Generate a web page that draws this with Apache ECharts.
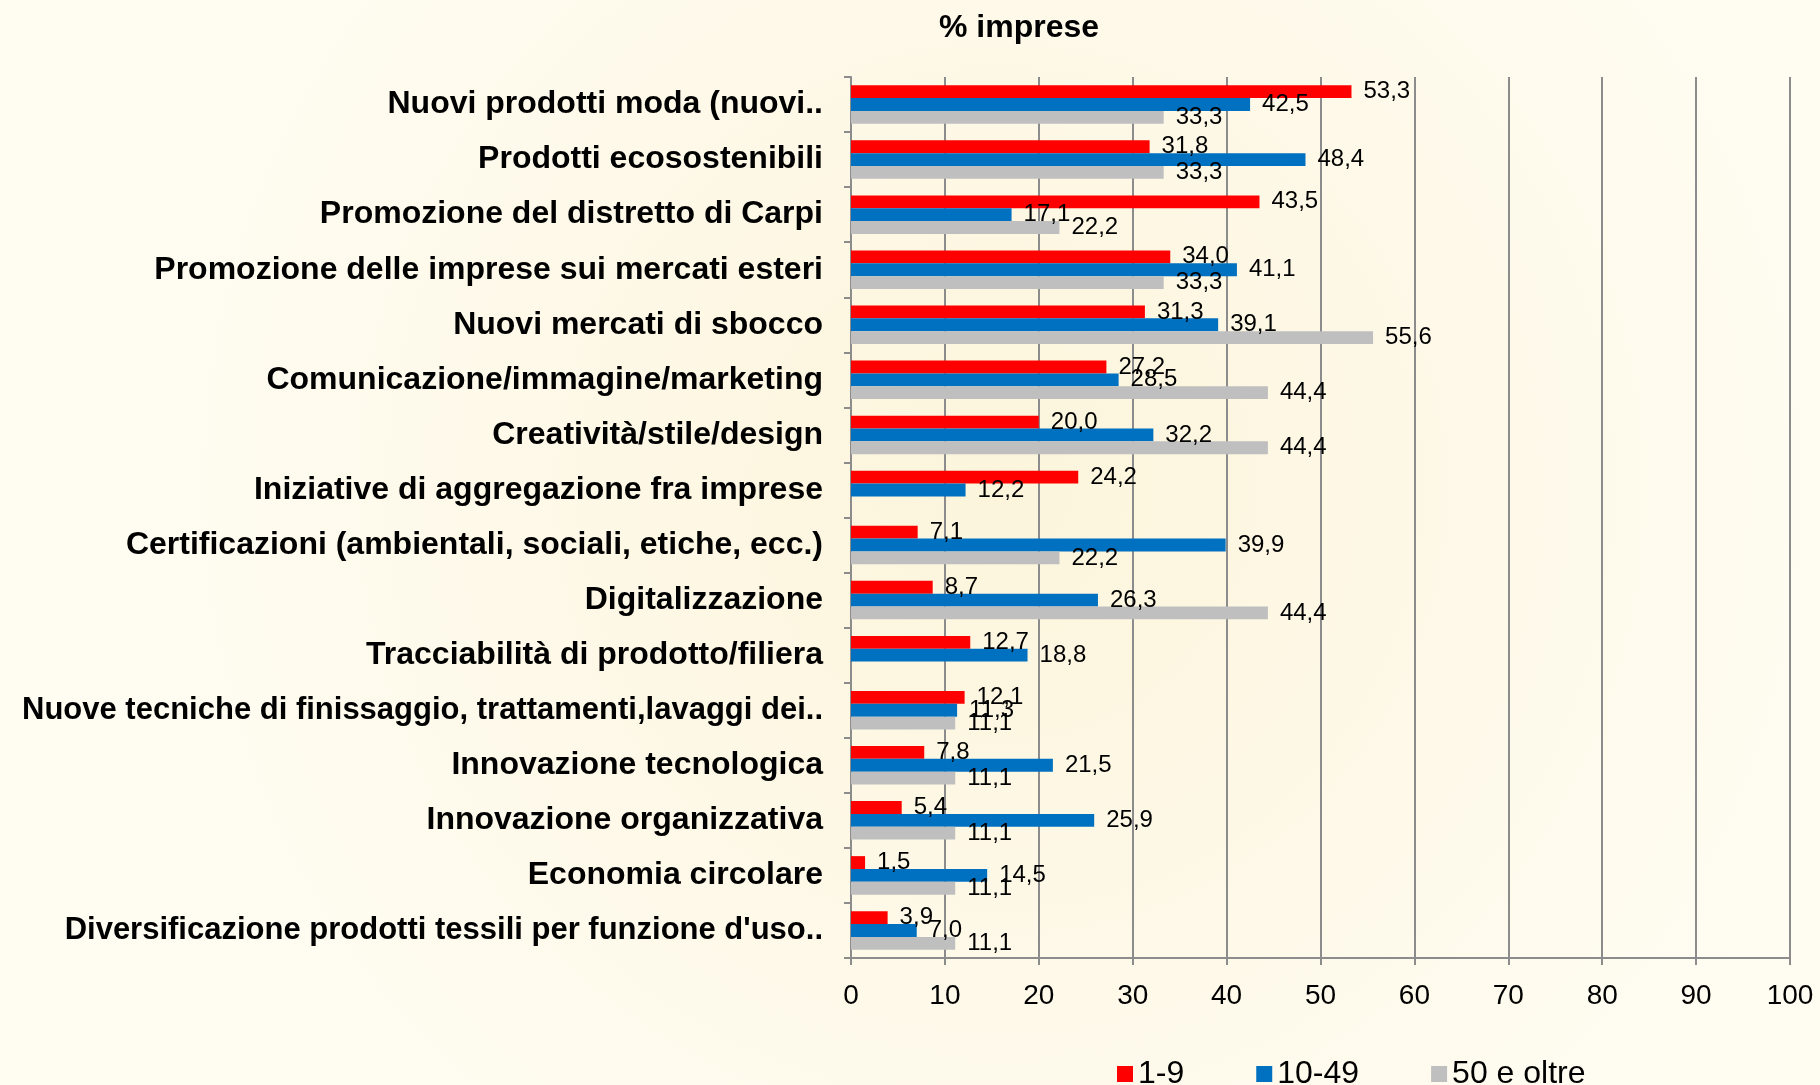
<!DOCTYPE html>
<html>
<head>
<meta charset="utf-8">
<script src="https://cdn.jsdelivr.net/npm/echarts@6/dist/echarts.min.js"></script>
<style>
  html, body { margin: 0; padding: 0; }
  #chart { width: 1820px; height: 1085px; }
</style>
</head>
<body>
<div id="chart"></div>
<script>
const categories = [
  "Nuovi prodotti moda (nuovi..",
  "Prodotti ecosostenibili",
  "Promozione del distretto di Carpi",
  "Promozione delle imprese sui mercati esteri",
  "Nuovi mercati di sbocco",
  "Comunicazione/immagine/marketing",
  "Creatività/stile/design",
  "Iniziative di aggregazione fra imprese",
  "Certificazioni (ambientali, sociali, etiche, ecc.)",
  "Digitalizzazione",
  "Tracciabilità di prodotto/filiera",
  "Nuove tecniche di finissaggio, trattamenti,lavaggi dei..",
  "Innovazione tecnologica",
  "Innovazione organizzativa",
  "Economia circolare",
  "Diversificazione prodotti tessili per funzione d'uso.."
];

const small = [53.3, 31.8, 43.5, 34.0, 31.3, 27.2, 20.0, 24.2, 7.1, 8.7, 12.7, 12.1, 7.8, 5.4, 1.5, 3.9];
const medium = [42.5, 48.4, 17.1, 41.1, 39.1, 28.5, 32.2, 12.2, 39.9, 26.3, 18.8, 11.3, 21.5, 25.9, 14.5, 7.0];
const large = [33.3, 33.3, 22.2, 33.3, 55.6, 44.4, 44.4, null, 22.2, 44.4, null, 11.1, 11.1, 11.1, 11.1, 11.1];

const seriesNames = ["1-9", "10-49", "50 e oltre"];
const seriesColors = ["#ff0000", "#0070c0", "#bfbfbf"];
const xTicks = [0, 10, 20, 30, 40, 50, 60, 70, 80, 90, 100];

const chart = echarts.init(document.getElementById("chart"));

// the longest label would run off the left edge, shrink just that one a bit
const yData = categories.map((c) =>
  c.length > 52 ? { value: c, textStyle: { fontSize: 31 } } : c
);

function makeSeries(name, data, color) {
  return {
    name,
    type: "bar",
    data,
    barGap: "0%",
    barCategoryGap: "30%",
    itemStyle: { color },
    label: {
      show: true,
      position: "right",
      distance: 12,
      color: "#000",
      fontSize: 24,
      formatter: (p) => (p.value == null ? "" : p.value.toFixed(1).replace(".", ",")),
    },
  };
}

const option = {
  backgroundColor: {
    type: "radial",
    x: 0.55, y: 0.45, r: 0.8,
    colorStops: [
      { offset: 0, color: "#fcf5dc" },
      { offset: 1, color: "#fffcf2" },
    ],
  },
  textStyle: { fontFamily: "Liberation Sans, Arial, sans-serif" },
  title: {
    text: "% imprese",
    left: 934,
    top: 7,
    textStyle: { fontSize: 32, fontWeight: "bold", color: "#000" },
  },
  legend: {
    bottom: -10,
    left: 1112,
    itemWidth: 16,
    itemHeight: 16,
    itemGap: 72,
    icon: "rect",
    textStyle: { fontSize: 32, color: "#000" },
    data: seriesNames,
  },
  grid: {
    left: 851,
    right: 30,
    top: 77,
    bottom: 127,
    outerBoundsMode: "none",
    containLabel: false,
  },
  xAxis: {
    type: "value",
    min: 0,
    max: 100,
    interval: 10,
    axisLine: { show: true, lineStyle: { color: "#8c8c8c", width: 2 } },
    axisTick: { show: true, length: 7, lineStyle: { color: "#8c8c8c", width: 2 } },
    axisLabel: {
      fontSize: 28,
      color: "#000",
      margin: 24,
      formatter: (v) => (xTicks.includes(v) ? String(v) : ""),
    },
    splitLine: { show: true, lineStyle: { color: "#8c8c8c", width: 2 } },
  },
  yAxis: {
    type: "category",
    data: yData,
    inverse: true,
    axisLine: { show: true, lineStyle: { color: "#8c8c8c", width: 2 } },
    axisTick: { show: true, length: 7, lineStyle: { color: "#8c8c8c", width: 2 } },
    axisLabel: {
      fontSize: 32,
      fontWeight: "bold",
      color: "#000",
      margin: 28,
    },
  },
  series: [
    makeSeries(seriesNames[0], small, seriesColors[0]),
    makeSeries(seriesNames[1], medium, seriesColors[1]),
    makeSeries(seriesNames[2], large, seriesColors[2]),
  ],
};

chart.setOption(option);
window.addEventListener("resize", chart.resize);
</script>
</body>
</html>
